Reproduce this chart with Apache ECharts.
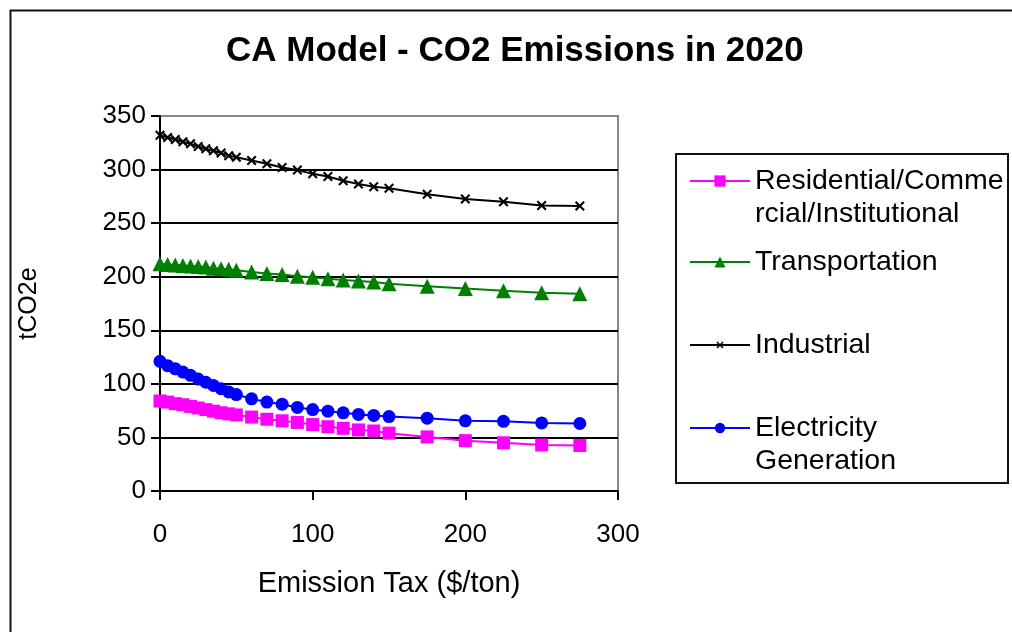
<!DOCTYPE html>
<html>
<head>
<meta charset="utf-8">
<script src="https://cdn.jsdelivr.net/npm/echarts@6/dist/echarts.min.js"></script>
<style>
  html, body { margin: 0; padding: 0; background: #ffffff; }
  #chart { width: 1012px; height: 632px; }
</style>
</head>
<body>
<div id="chart"></div>
<script>
// Emission tax levels ($/ton) at which the model was run
const taxLevels = [0, 5, 10, 15, 20, 25, 30, 35, 40, 45, 50, 60, 70, 80, 90, 100, 110, 120, 130, 140, 150, 175, 200, 225, 250, 275];

// 2020 CO2 emissions by sector (tCO2e)
const residential = [84, 83, 81.5, 80.5, 79, 77.5, 76, 74.5, 73, 72, 71, 69, 67, 65.5, 64, 62, 60, 58.5, 57, 56, 54, 50.5, 47, 45, 43, 42.5];
const transportation = [212, 211.5, 211, 210.5, 210, 209.5, 209, 208, 207.5, 207, 206, 204.5, 203, 202, 200.5, 199.5, 198, 197, 196, 195, 193.5, 191, 189, 187, 185, 184];
const industrial = [332, 330, 328, 326, 324, 321.5, 319.5, 317.5, 315.5, 313, 311.5, 308.5, 305.5, 302, 299.5, 296, 293.5, 289.5, 286.5, 284, 282.5, 277, 272.5, 270, 266.5, 266];
const electricity = [121, 117, 114, 111, 108, 104.5, 101.5, 98.5, 95.5, 92.5, 90, 86, 83, 81, 78, 76, 74.5, 73, 71.5, 70.5, 69.5, 68, 65.5, 65, 63.5, 63];

// Sector names and the wrapped text shown in the legend box
const sectorNames = ['Residential/Commercial/Institutional', 'Transportation', 'Industrial', 'Electricity Generation'];
const legendText = ['\nResidential/Comme\nrcial/Institutional', 'Transportation', 'Industrial', '\nElectricity\nGeneration'];

const titleText = 'CA Model - CO2 Emissions in 2020';
const xAxisTitle = 'Emission Tax ($/ton)';
const yAxisTitle = 'tCO2e';

const FONT = '"Liberation Sans", Arial, sans-serif';
// small bold "x" used for the Industrial series
const crossPath = 'path://M0,1.5 L1.5,0 L5,3.5 L8.5,0 L10,1.5 L6.5,5 L10,8.5 L8.5,10 L5,6.5 L1.5,10 L0,8.5 L3.5,5 Z';

const sectorStyles = [
  { color: '#FF00FF', symbol: 'rect', size: 13, legendH: 14 },
  { color: '#008000', symbol: 'triangle', size: 15, legendH: 14 },
  { color: '#000000', symbol: crossPath, size: 10, legendH: 9 },
  { color: '#0000FF', symbol: 'circle', size: 13, legendH: 13 }
];
const sectorValues = [residential, transportation, industrial, electricity];
const legendCenters = [181, 262, 345, 428];

const chart = echarts.init(document.getElementById('chart'), null, { renderer: 'canvas' });

const series = sectorNames.map((name, k) => ({
  name: name,
  type: 'line',
  data: taxLevels.map((x, i) => [x, sectorValues[k][i]]),
  symbol: sectorStyles[k].symbol,
  symbolSize: sectorStyles[k].size,
  showAllSymbol: true,
  lineStyle: { color: sectorStyles[k].color, width: 2 },
  itemStyle: { color: sectorStyles[k].color },
  emphasis: { disabled: true },
  animation: false,
  z: 3
}));

const legends = sectorNames.map((name, k) => {
  const lines = legendText[k].split('\n').length;
  const h = lines * 33;
  return {
    data: [name],
    left: 689,
    top: legendCenters[k] - h / 2,
    padding: 0,
    itemWidth: 60,
    itemHeight: sectorStyles[k].legendH,
    itemGap: 0,
    selectedMode: false,
    formatter: () => legendText[k],
    textStyle: { fontFamily: FONT, fontSize: 28.5, color: '#000', lineHeight: 33 }
  };
});

chart.setOption({
  backgroundColor: '#ffffff',
  animation: false,
  title: {
    text: titleText,
    left: 226,
    top: 34,
    padding: 0,
    textStyle: { fontFamily: FONT, fontSize: 35, fontWeight: 'bold', color: '#000' }
  },
  legend: legends,
  grid: {
    left: 160, top: 116, width: 458, height: 375,
    show: true, borderColor: '#888888', borderWidth: 2, backgroundColor: '#ffffff'
  },
  xAxis: {
    type: 'value',
    min: 0, max: 300, interval: 100,
    name: xAxisTitle,
    nameLocation: 'middle',
    nameGap: 78,
    nameTextStyle: { fontFamily: FONT, fontSize: 29, color: '#000' },
    axisLine: { show: true, onZero: false, lineStyle: { color: '#000', width: 2 } },
    axisTick: { show: true, length: 9, lineStyle: { color: '#000', width: 2 } },
    axisLabel: { fontFamily: FONT, fontSize: 26, color: '#000', margin: 31 },
    splitLine: { show: false }
  },
  yAxis: {
    type: 'value',
    min: 0, max: 350, interval: 50,
    name: yAxisTitle,
    nameLocation: 'middle',
    nameGap: 118,
    nameTextStyle: { fontFamily: FONT, fontSize: 25, color: '#000' },
    axisLine: { show: true, lineStyle: { color: '#000', width: 2 } },
    axisTick: { show: true, length: 9, lineStyle: { color: '#000', width: 2 } },
    axisLabel: { fontFamily: FONT, fontSize: 26, color: '#000', margin: 14 },
    splitLine: {
      show: true,
      lineStyle: { color: ['#000', '#000', '#000', '#000', '#000', '#000', '#000', '#888888'], width: 2 }
    }
  },
  graphic: [
    { type: 'rect', left: 8, top: 8, shape: { x: 0, y: 0, width: 1100, height: 700 },
      style: { fill: 'none', stroke: '#111', lineWidth: 2 }, silent: true, z: -10 },
    { type: 'rect', shape: { x: 676, y: 154, width: 332, height: 329 },
      style: { fill: 'none', stroke: '#111', lineWidth: 2 }, silent: true }
  ],
  series: series
});
</script>
</body>
</html>
